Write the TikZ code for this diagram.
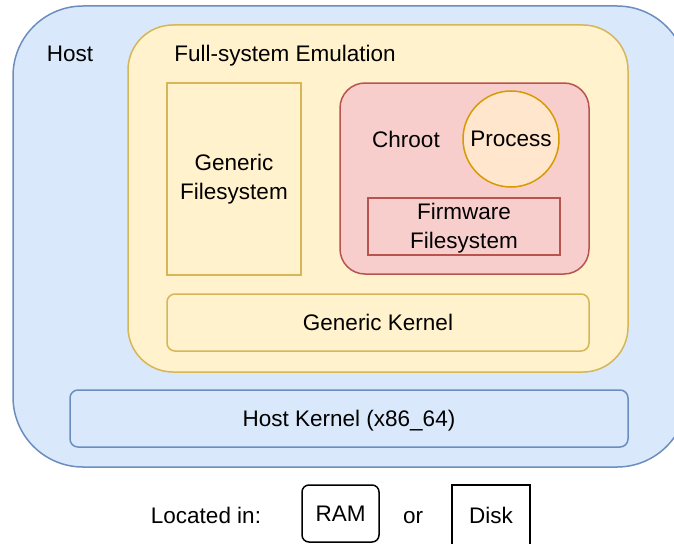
\documentclass[tikz,border=0pt]{standalone}
\usepackage{fontspec}
\setmainfont{Liberation Sans}
\usetikzlibrary{positioning}

\definecolor{hostfill}{HTML}{DAE8FC}
\definecolor{hostline}{HTML}{6C8EBF}
\definecolor{emufill}{HTML}{FFF2CC}
\definecolor{emuline}{HTML}{D6B656}
\definecolor{chrootfill}{HTML}{F8CECC}
\definecolor{chrootline}{HTML}{B85450}
\definecolor{procfill}{HTML}{FFE6CC}
\definecolor{procline}{HTML}{D79B00}

\tikzset{
	box/.style={draw, line width=1.5pt, inner sep=0pt, align=center},
	oneline/.style={text height=16pt, text depth=1pt},
	hostbox/.style={box, draw=hostline, fill=hostfill},
	emubox/.style={box, draw=emuline, fill=emufill},
	chrootbox/.style={box, draw=chrootline, fill=chrootfill},
	label/.style={inner sep=0pt, anchor=base, align=center}
}

\begin{document}
\begin{tikzpicture}[x=1pt,y=-1pt,font=\fontsize{22.5}{29}\selectfont]
	\clip (0,0) rectangle (674,543);
	% host machine
	\node [hostbox, rounded corners=70pt, minimum width=674pt, minimum height=461pt] (host) at (350,236.5) {};
	\node [label] (hostlbl) at (70,61) {Host};
	% emulator
	\node [emubox, rounded corners=45pt, minimum width=500pt, minimum height=347pt] (emu) at (378,198.5) {};
	\node [label] (emulbl) at (285,61) {Full-system Emulation};
	\node [emubox, minimum width=134pt, minimum height=192pt] (genfs) at (234,179) {Generic\\Filesystem};
	% chroot with the firmware
	\node [chrootbox, rounded corners=25pt, minimum width=249pt, minimum height=191pt] (chroot) at (464.5,178.5) {};
	\node [label] (chrootlbl) at (406,147) {Chroot};
	\node [box, oneline, circle, draw=procline, fill=procfill, minimum size=96pt] (proc) at (511,139) {Process};
	\node [chrootbox, minimum width=192pt, minimum height=57pt] (fwfs) at (464,226.5) {};
	\node [label, anchor=center] (fwlbl) at (464,228) {Firmware\\Filesystem};
	\node [emubox, oneline, rounded corners=8pt, minimum width=422pt, minimum height=57pt] (genkern) at (378,322.5) {Generic Kernel};
	\node [hostbox, oneline, rounded corners=8pt, minimum width=558pt, minimum height=57pt] (hostkern) at (349,418.5) {Host Kernel (x86\_64)};
	% legend
	\node [label] (located) at (206,523) {Located in:};
	\node [box, oneline, rounded corners=7pt, minimum width=77pt, minimum height=57pt] (ram) at (340.5,513.5) {RAM};
	\node [label] (or) at (413,523) {or};
	\node [box, minimum width=78pt, minimum height=60pt] (disk) at (491,515) {};
	\node [label] (disklbl) at (491,523) {Disk};
\end{tikzpicture}
\end{document}
